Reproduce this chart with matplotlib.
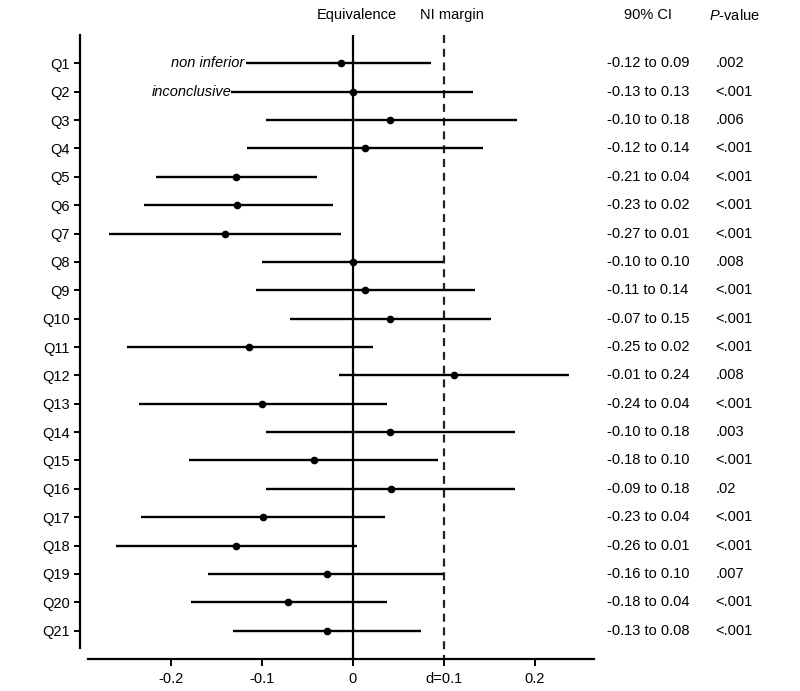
import numpy as np
import matplotlib
matplotlib.use("Agg")
import matplotlib.pyplot as plt

plt.rcParams['font.family'] = ['Liberation Sans', 'DejaVu Sans']
plt.rcParams['mathtext.fontset'] = 'custom'
plt.rcParams['mathtext.rm'] = 'Liberation Sans'
plt.rcParams['mathtext.it'] = 'Liberation Sans:italic'

# questions, point estimates and plotted CI ends
questions = ['Q%d' % i for i in range(1, 22)]
estimate = [-0.013, 0.0, 0.041, 0.013, -0.128, -0.127, -0.141, 0.0, 0.013, 0.041, -0.114,
            0.111, -0.100, 0.041, -0.043, 0.042, -0.099, -0.128, -0.029, -0.071, -0.029]
ci_low = [-0.117, -0.134, -0.096, -0.116, -0.216, -0.230, -0.268, -0.100, -0.107, -0.069, -0.248,
          -0.015, -0.235, -0.096, -0.180, -0.095, -0.233, -0.260, -0.159, -0.178, -0.132]
ci_high = [0.086, 0.132, 0.180, 0.143, -0.039, -0.022, -0.013, 0.099, 0.134, 0.152, 0.022,
           0.238, 0.037, 0.178, 0.094, 0.178, 0.035, 0.005, 0.100, 0.037, 0.075]

# right-hand table
ci_text = ['-0.12 to 0.09', '-0.13 to 0.13', '-0.10 to 0.18', '-0.12 to 0.14', '-0.21 to 0.04',
           '-0.23 to 0.02', '-0.27 to 0.01', '-0.10 to 0.10', '-0.11 to 0.14', '-0.07 to 0.15',
           '-0.25 to 0.02', '-0.01 to 0.24', '-0.24 to 0.04', '-0.10 to 0.18', '-0.18 to 0.10',
           '-0.09 to 0.18', '-0.23 to 0.04', '-0.26 to 0.01', '-0.16 to 0.10', '-0.18 to 0.04',
           '-0.13 to 0.08']
p_text = ['.002', '<.001', '.006', '<.001', '<.001', '<.001', '<.001', '.008', '<.001', '<.001',
          '<.001', '.008', '<.001', '.003', '<.001', '.02', '<.001', '<.001', '.007', '<.001',
          '<.001']

xticks = [-0.2, -0.1, 0, 0.1, 0.2]
xticklabels = ['-0.2', '-0.1', '0', 'd=0.1', '0.2']
margin = 0.1
fs = 10.5

fig = plt.figure(figsize=(8, 6.91), dpi=100)
ax = fig.add_axes([0.1, 0.0463, 0.6425, 0.903])

rows = np.arange(1, len(questions) + 1)
ax.hlines(rows, ci_low, ci_high, color='black', lw=1.7, zorder=2)
ax.plot(estimate, rows, 'o', color='black', ms=4.5, zorder=3)

ax.vlines(0, 0, 22, color='black', lw=1.6, zorder=1)
ax.vlines(margin, 0, 22, color='#222222', lw=1.6, linestyles=(0, (3.6, 2.6)), zorder=1)

ax.set_xlim(-0.30, 0.265)
ax.set_ylim(22, 0)
ax.set_yticks(rows)
ax.set_yticklabels(questions, fontsize=fs)
ax.set_xticks(xticks)
ax.set_xticklabels(xticklabels, fontsize=fs)

for s in ['top', 'right']:
    ax.spines[s].set_visible(False)
ax.spines['left'].set_bounds(0, 21.6)
ax.spines['bottom'].set_bounds(-0.291, 0.265)
ax.spines['left'].set_linewidth(1.6)
ax.spines['bottom'].set_linewidth(1.6)
ax.tick_params(axis='y', length=4.5, width=1.4, pad=3)
ax.tick_params(axis='x', length=5, width=1.4, pad=4)

ax.text(ci_low[0] - 0.003, 1, 'non inferior', style='italic', fontsize=fs,
        ha='right', va='center')
ax.text(ci_low[1] + 0.001, 2, 'inconclusive', style='italic', fontsize=fs,
        ha='right', va='center')

# column headers
hy = 0.978
fig.text(356.7 / 800, hy, 'Equivalence', ha='center', va='center', fontsize=fs)
fig.text(451.7 / 800, hy, 'NI margin', ha='center', va='center', fontsize=fs)
fig.text(647.7 / 800, hy, '90% CI', ha='center', va='center', fontsize=fs)
fig.text(734 / 800, hy, r'$P$-value', ha='center', va='center', fontsize=fs)

trans = matplotlib.transforms.blended_transform_factory(fig.transFigure, ax.transData)
for r, c, p in zip(rows, ci_text, p_text):
    fig.text(648 / 800, r, c, ha='center', va='center', fontsize=fs, transform=trans)
    fig.text(715.7 / 800, r, p, ha='left', va='center', fontsize=fs, transform=trans)

fig.savefig('out.png', dpi=100)
